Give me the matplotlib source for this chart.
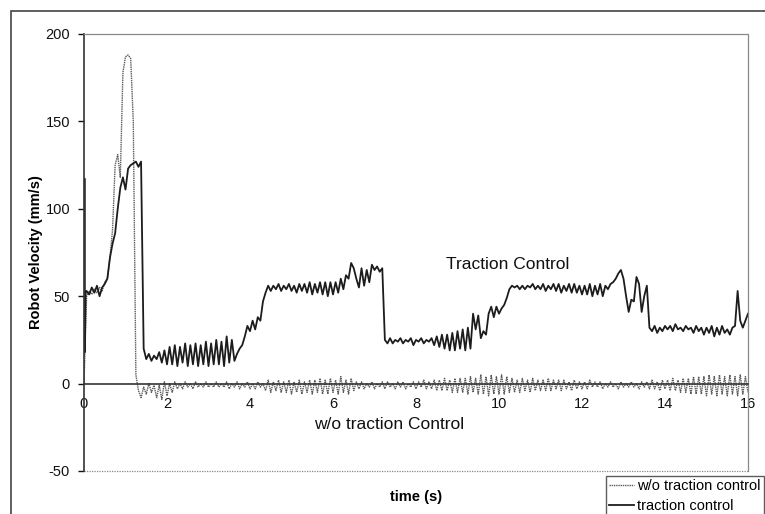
import matplotlib
matplotlib.use("Agg")
import matplotlib.pyplot as plt
from matplotlib.patches import Rectangle
import numpy as np

plt.rcParams['font.family'] = ['Liberation Sans', 'DejaVu Sans']
plt.rcParams['axes.unicode_minus'] = False

# sampling interval of the logged velocities (s)
DT = 0.0625

# traction control: spike at start, then one value per sample from t = DT
tc_head_t = [0.02, 0.02, 0.04]
tc_head_v = [117, 18, 52]
tc_v = [
    53, 51, 55, 52, 56, 50, 55, 57, 60, 72, 80, 86, 100, 112, 118, 111,
    123, 125, 126, 127, 124, 127, 20, 14, 17, 13, 16, 14, 18, 12, 19, 11,
    21, 11, 22, 10, 21, 12, 23, 10, 22, 11, 23, 10, 22, 11, 24, 10,
    23, 11, 25, 11, 24, 10, 27, 12, 25, 13, 17, 20, 22, 27, 33, 30,
    36, 31, 38, 36, 47, 52, 56, 53, 56, 54, 57, 53, 56, 54, 57, 53,
    56, 52, 57, 53, 57, 52, 58, 51, 57, 52, 58, 51, 58, 50, 58, 51,
    58, 52, 60, 54, 62, 60, 69, 66, 60, 55, 66, 56, 65, 58, 68, 65,
    67, 64, 66, 25, 23, 26, 23, 25, 24, 26, 23, 25, 24, 26, 22, 25,
    24, 26, 23, 25, 24, 26, 22, 27, 21, 28, 20, 28, 19, 29, 19, 30,
    20, 31, 19, 32, 20, 40, 31, 39, 26, 30, 28, 40, 44, 38, 44, 40,
    43, 45, 49, 54, 56, 55, 56, 54, 56, 54, 56, 55, 57, 54, 56, 54,
    57, 53, 56, 54, 57, 53, 57, 52, 56, 53, 57, 52, 57, 52, 56, 51,
    56, 51, 57, 50, 56, 51, 57, 50, 56, 54, 57, 58, 60, 63, 65, 60,
    50, 41, 48, 47, 61, 57, 41, 50, 56, 32, 30, 33, 29, 32, 30, 33,
    31, 33, 30, 34, 31, 32, 30, 33, 31, 32, 29, 33, 30, 32, 28, 32,
    29, 33, 27, 32, 28, 33, 29, 31, 28, 32, 33, 53, 36, 32, 36, 40,
]

# w/o traction control: one value per sample from t = 0
wo_v = [
    0, 50, 53, 51, 54, 52, 55, 53, 58, 60, 72, 88, 125, 131, 118, 178, 187,
    188, 186, 150, 5, -4, -8, -2, -6, 0, -5, -1, -8, -1, -9, 1, -7,
    0, -5, 1, -3, 0, -3, 1, -2, 0, -3, 1, -2, 0, -2, 1, -2,
    0, -2, 1, -2, 0, -2, 1, -3, 0, -2, 1, -3, 0, -2, 1, -3,
    0, -3, 1, -2, 0, -4, 2, -5, 1, -4, 2, -5, 1, -5, 2, -6,
    1, -5, 2, -6, 1, -5, 2, -6, 2, -5, 3, -6, 2, -6, 3, -5,
    2, -6, 4, -5, 2, -6, 3, -4, 1, -3, 1, -3, 0, -2, 1, -3,
    0, -2, 1, -3, 1, -2, 0, -3, 1, -2, 1, -3, 0, -2, 1, -3,
    1, -2, 2, -3, 1, -3, 2, -4, 2, -4, 3, -4, 2, -5, 3, -5,
    3, -5, 3, -6, 4, -5, 3, -6, 5, -6, 4, -7, 5, -6, 4, -6,
    5, -6, 4, -5, 3, -5, 2, -5, 3, -4, 2, -5, 3, -4, 2, -4,
    2, -4, 3, -4, 2, -3, 2, -4, 2, -3, 1, -4, 2, -3, 1, -3,
    1, -3, 2, -2, 1, -2, 1, -3, 0, -2, 1, -2, 0, -3, 1, -2,
    0, -2, 1, -2, 0, -3, 1, -2, 1, -3, 2, -3, 1, -4, 2, -3,
    2, -4, 3, -4, 2, -5, 3, -5, 3, -6, 4, -6, 4, -6, 4, -7,
    5, -6, 4, -7, 5, -6, 4, -7, 5, -6, 4, -7, 5, -6, 4, -5,
]

x_ticks = [0, 2, 4, 6, 8, 10, 12, 14, 16]
y_ticks = [-50, 0, 50, 100, 150, 200]

W, H = 765, 514
fig = plt.figure(figsize=(W / 100, H / 100), dpi=100)
fig.patch.set_facecolor("white")
fig.patches.append(Rectangle((11 / W, -0.1), 2, (H - 11) / H + 0.1, transform=fig.transFigure,
                             fill=False, edgecolor="#444444", linewidth=1.2))

ax = fig.add_axes([84 / W, 1 - 471 / H, (748 - 84) / W, (471 - 34) / H])

wo_t = np.arange(len(wo_v)) * DT
tc_t = np.concatenate([tc_head_t, np.arange(1, len(tc_v) + 1) * DT])
tc_all = np.concatenate([tc_head_v, tc_v])

ax.plot(wo_t, wo_v, color="#5a5a5a", linewidth=1.0, linestyle=(0, (1, 0.6)), label="w/o traction control")
ax.plot(tc_t, tc_all, color="#1c1c1c", linewidth=1.3, label="traction control")

ax.set_xlim(0, 16)
ax.set_ylim(-50, 200)
ax.set_xticks(x_ticks)
ax.set_yticks(y_ticks)
ax.tick_params(axis="x", length=0, pad=10, labelsize=10.5, colors="#111111")
ax.tick_params(axis="y", length=4, width=1, pad=6, labelsize=10.5, colors="#111111", direction="out")

ax.spines["bottom"].set_position(("data", 0))
ax.spines["bottom"].set_color("#333333")
ax.spines["bottom"].set_linewidth(1.2)
ax.spines["left"].set_color("#333333")
ax.spines["left"].set_linewidth(1.2)
for side in ["top", "right"]:
    ax.spines[side].set_color("#888888")
    ax.spines[side].set_linestyle((0, (1, 1)))
    ax.spines[side].set_linewidth(0.9)
ax.axhline(-50, color="#888888", linestyle=(0, (1, 1)), linewidth=0.9, clip_on=False)

ax.text(10.2, 68, "Traction Control", fontsize=12.5, ha="center", va="center", color="#111111")
ax.text(7.34, -23.5, "w/o traction Control", fontsize=12.5, ha="center", va="center", color="#111111")

fig.text(36 / W, 1 - 252 / H, "Robot Velocity (mm/s)", rotation=90, fontsize=10.5, fontweight="bold",
         ha="center", va="center")
fig.text(416 / W, 1 - 497 / H, "time (s)", fontsize=10.5, fontweight="bold", ha="center", va="center")

fig.legend(loc="upper left", bbox_to_anchor=(606 / W, 1 - 476 / H), fontsize=10.5, frameon=True,
           fancybox=False, edgecolor="#333333", handlelength=1.7, handletextpad=0.25,
           labelspacing=0.4, borderpad=0.2, borderaxespad=0)

fig.savefig("out.png", dpi=100)
